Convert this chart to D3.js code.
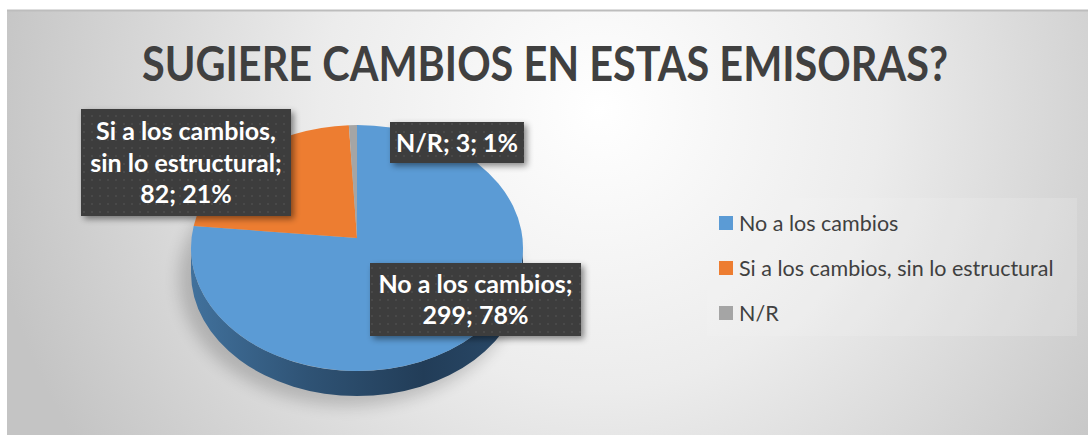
<!DOCTYPE html>
<html>
<head>
<meta charset="utf-8">
<script src="https://cdn.jsdelivr.net/npm/d3@7"></script>
<style>
  html, body { margin: 0; padding: 0; background: #fff; }
  svg { display: block; }
</style>
</head>
<body>
<div class="chart"></div>
<script>
// data
const categories = ['No a los cambios', 'Si a los cambios, sin lo estructural', 'N/R']
const values = [299, 82, 3]
const colors = ['#5b9bd5', '#ed7d31', '#a5a5a5']
// how each data label wraps (Excel manual line breaks)
const labelBreaks = [[17], [17, 37], []]
const title = 'SUGIERE CAMBIOS EN ESTAS EMISORAS?'

const W = 1088
const H = 435
const FONT = 'Lato, "Open Sans", sans-serif'

const svg = d3.select('.chart').append('svg')
  .attr('width', W)
  .attr('height', H)

const defs = svg.append('defs')

// background radial gradient
const bg = defs.append('radialGradient')
  .attr('id', 'bg')
  .attr('gradientUnits', 'userSpaceOnUse')
  .attr('cx', 600).attr('cy', 110).attr('r', 620)
bg.append('stop').attr('offset', '0%').attr('stop-color', '#ffffff')
bg.append('stop').attr('offset', '45%').attr('stop-color', '#ececec')
bg.append('stop').attr('offset', '100%').attr('stop-color', '#c4c4c4')

// side of the pie
const side = defs.append('linearGradient')
  .attr('id', 'side')
  .attr('x1', '0%').attr('x2', '100%').attr('y1', '0%').attr('y2', '0%')
side.append('stop').attr('offset', '0%').attr('stop-color', '#41719c')
side.append('stop').attr('offset', '35%').attr('stop-color', '#2f5375')
side.append('stop').attr('offset', '70%').attr('stop-color', '#223d58')
side.append('stop').attr('offset', '100%').attr('stop-color', '#2a4a6a')

// dotted dark texture for data labels
const pat = defs.append('pattern')
  .attr('id', 'dots')
  .attr('patternUnits', 'userSpaceOnUse')
  .attr('width', 8).attr('height', 8)
pat.append('rect').attr('width', 8).attr('height', 8).attr('fill', '#3c3c3c')
pat.append('circle').attr('cx', 4).attr('cy', 4).attr('r', 1.3).attr('fill', '#484848')

const shadow = defs.append('filter').attr('id', 'shadow')
  .attr('x', '-20%').attr('y', '-20%').attr('width', '140%').attr('height', '150%')
shadow.append('feDropShadow')
  .attr('dx', 3).attr('dy', 3).attr('stdDeviation', 3)
  .attr('flood-color', '#000').attr('flood-opacity', 0.45)

const blur = defs.append('filter').attr('id', 'blur')
  .attr('x', '-30%').attr('y', '-30%').attr('width', '160%').attr('height', '160%')
blur.append('feGaussianBlur').attr('stdDeviation', 8)

// chart area
svg.append('rect')
  .attr('x', 7).attr('y', 10)
  .attr('width', W - 7).attr('height', H - 10)
  .attr('fill', 'url(#bg)')
svg.append('line')
  .attr('x1', 7).attr('x2', W).attr('y1', 10.5).attr('y2', 10.5)
  .attr('stroke', '#bdbdbd').attr('stroke-width', 2)

svg.append('text')
  .attr('x', 545).attr('y', 81)
  .attr('text-anchor', 'middle')
  .attr('font-family', FONT)
  .attr('font-weight', 700)
  .attr('font-size', 48)
  .attr('textLength', 806)
  .attr('lengthAdjust', 'spacingAndGlyphs')
  .attr('fill', '#404040')
  .text(title)

// pie in a tilted view
const cx = 357
const cy = 248
const rx = 166
const ry = 123
const apex = [357, 238]
const depth = 25

const rim = a => [cx + rx * Math.sin(a), cy - ry * Math.cos(a)]

const pie = d3.pie().sort(null).value(d => d)
const arcs = pie(values)
const total = d3.sum(values)

const g = svg.append('g')

// soft shadow under the pie
g.append('ellipse')
  .attr('cx', cx - 8).attr('cy', cy + depth + 6)
  .attr('rx', rx + 4).attr('ry', ry + 4)
  .attr('fill', '#000').attr('opacity', 0.18)
  .attr('filter', 'url(#blur)')

// visible front side
g.append('path')
  .attr('d', `M${cx + rx},${cy} A${rx},${ry} 0 0 1 ${cx - rx},${cy} L${cx - rx},${cy + depth} A${rx},${ry} 0 0 0 ${cx + rx},${cy + depth} Z`)
  .attr('fill', 'url(#side)')

// top faces
g.selectAll('path.slice')
  .data(arcs)
  .join('path')
  .attr('class', 'slice')
  .attr('fill', (d, i) => colors[i])
  .attr('d', d => {
    const p0 = rim(d.startAngle)
    const p1 = rim(d.endAngle)
    const large = d.endAngle - d.startAngle > Math.PI ? 1 : 0
    return `M${apex[0]},${apex[1]} L${p0[0]},${p0[1]} A${rx},${ry} 0 ${large} 1 ${p1[0]},${p1[1]} Z`
  })

// data labels
const pct = v => Math.round(v / total * 100) + '%'
const labelText = (i) => `${categories[i]}; ${values[i]}; ${pct(values[i])}`
const splitText = (s, breaks) => {
  const out = []
  let last = 0
  breaks.forEach(b => { out.push(s.slice(last, b).trim()); last = b })
  out.push(s.slice(last).trim())
  return out
}

const boxes = [
  { x: 370, y: 263, w: 211, h: 73 },
  { x: 81, y: 109, w: 210, h: 107 },
  { x: 390, y: 122, w: 134, h: 41 }
]
const LINE = 31.5

arcs.forEach((d, i) => {
  const b = boxes[i]
  const lines = splitText(labelText(i), labelBreaks[i])
  const lg = svg.append('g')
  lg.append('rect')
    .attr('x', b.x).attr('y', b.y).attr('width', b.w).attr('height', b.h)
    .attr('fill', 'url(#dots)')
    .attr('filter', 'url(#shadow)')
  const y0 = b.y + b.h / 2 - (lines.length - 1) * LINE / 2 + 9
  lg.selectAll('text')
    .data(lines)
    .join('text')
    .attr('x', b.x + b.w / 2)
    .attr('y', (t, j) => y0 + j * LINE)
    .attr('text-anchor', 'middle')
    .attr('font-family', FONT)
    .attr('font-weight', 700)
    .attr('font-size', 25)
    .attr('fill', '#ffffff')
    .text(t => t)
})

// legend
const legend = svg.append('g')
legend.append('rect')
  .attr('x', 707).attr('y', 198).attr('width', 370).attr('height', 138)
  .attr('fill', '#f4f4f4').attr('opacity', 0.2)
const items = legend.selectAll('g.item')
  .data(categories)
  .join('g')
  .attr('class', 'item')
  .attr('transform', (d, i) => `translate(719, ${223 + i * 45})`)
items.append('rect')
  .attr('x', 0).attr('y', -7).attr('width', 14).attr('height', 14)
  .attr('fill', (d, i) => colors[i])
items.append('text')
  .attr('x', 20).attr('y', 7.5)
  .attr('font-family', FONT)
  .attr('font-size', 21.5)
  .attr('fill', '#404040')
  .text(d => d)
</script>
</body>
</html>
